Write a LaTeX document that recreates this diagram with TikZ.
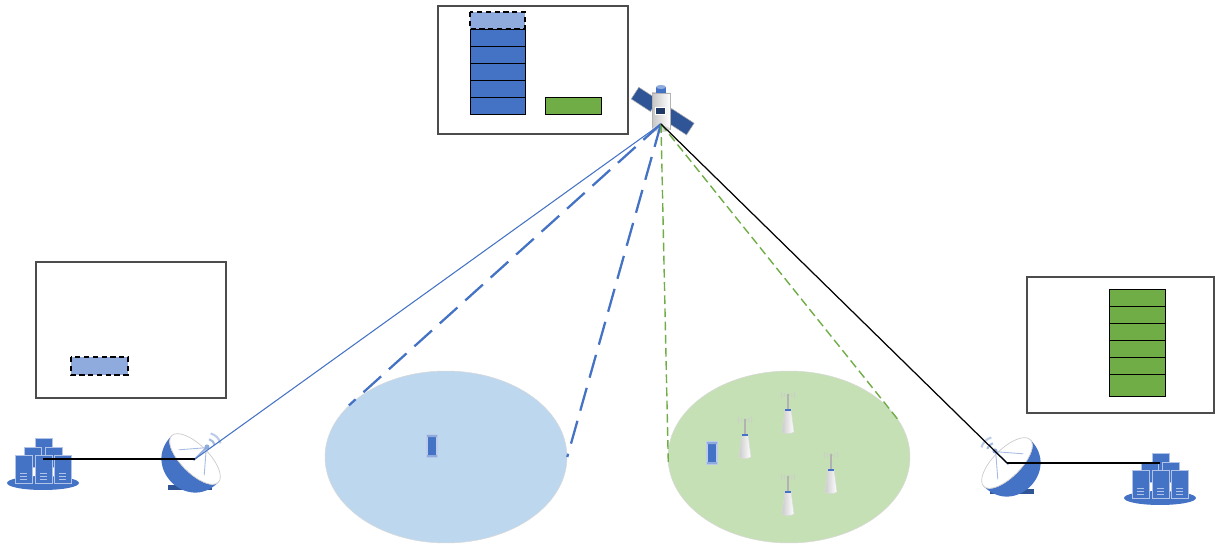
\documentclass[tikz,border=0pt]{standalone}
\usetikzlibrary{shapes.geometric,calc}

\definecolor{cellblue}{HTML}{4472C4}
\definecolor{cellpale}{HTML}{8FAADC}
\definecolor{cellgreen}{HTML}{70AD47}
\definecolor{spotblue}{HTML}{BDD7EE}
\definecolor{spotgreen}{HTML}{C5E0B4}
\definecolor{navy}{HTML}{2F5597}
\definecolor{panelnavy}{HTML}{203864}

\tikzset{
  panel/.style={draw=black!70, line width=0.7pt, fill=white},
  slot/.style={draw=black, line width=0.5pt},
  spare/.style={draw=black, densely dashed, line width=0.6pt, fill=cellpale},
  spot/.style={ellipse, minimum width=4.84cm, minimum height=3.44cm, inner sep=0pt, draw=black!15, line width=0.3pt},
  beamA/.style={cellblue, line width=1.3pt, dash pattern=on 13.5pt off 6pt},
  beamB/.style={cellgreen, line width=0.8pt, dash pattern=on 5pt off 2.5pt},
  feeder/.style={cellblue, line width=0.6pt},
  wire/.style={black, line width=0.7pt},
  % server rack cluster, origin at the centre of its base
  servers/.pic={
    \fill[cellblue] (0,0) ellipse [x radius=36, y radius=7];
    \foreach \xa/\ya in {-8/-45, -19/-36, 2/-36}
      \filldraw[fill=cellblue, draw=cellpale!70, line width=0.4pt] (\xa,\ya) rectangle ++(17,20);
    \foreach \xa in {-28,-8,11} {
      \filldraw[fill=cellblue, draw=cellpale!70, line width=0.4pt] (\xa,-28) rectangle ++(17,28);
      \draw[cellpale!70, line width=0.4pt] (\xa+5,-10) -- ++(7,0) (\xa+5,-7) -- ++(7,0) (\xa+5,-4) -- ++(7,0);
    }
    \coordinate (-port) at (0,-24);
  },
  % ground dish, origin at the feed
  dish/.pic={
    \fill[panelnavy] (-9,14) -- (-4,14) -- (-9,27) -- (-14,27) -- cycle;
    \fill[navy] (-27,26) rectangle (17,31);
    \begin{scope}[rotate=-45]
      \fill[cellblue] (-33,0) .. controls (-33,44) and (33,44) .. (33,0)
        .. controls (33,18.7) and (-33,18.7) .. (-33,0) -- cycle;
      \filldraw[fill=white, draw=gray!40, line width=0.4pt] (0,0) ellipse [x radius=33, y radius=14];
      \draw[cellpale!80, line width=0.5pt] (-18,5) -- (0,-16) -- (18,5);
      \draw[cellpale, line width=1pt] (0,2) -- (0,-17);
      \fill[cellpale] (0,-17) circle (2.5);
      \draw[cellpale!80, line width=1.2pt] (0,-17) ++(240:8) arc[start angle=240, end angle=300, radius=8];
      \draw[cellpale!60, line width=1.2pt] (0,-17) ++(240:14) arc[start angle=240, end angle=300, radius=14];
    \end{scope}
    \coordinate (-feed) at (0,0);
  },
  % satellite, origin at the body
  sat/.pic={
    \begin{scope}[rotate=-33]
      \draw[gray!70, line width=0.6pt] (-10,0) -- (10,0);
      \filldraw[fill=navy, draw=gray!60, line width=0.3pt] (-31,-7) rectangle (-8,7);
      \filldraw[fill=navy, draw=gray!60, line width=0.3pt] (8,-7) rectangle (35,7);
    \end{scope}
    \shade[left color=gray!45, right color=white, draw=gray!60, line width=0.3pt] (-9,-17) rectangle (9,19);
    \fill[gray!30] (0,19) ellipse [x radius=9, y radius=3];
    \fill[cellblue] (-5,-23) rectangle (5,-17);
    \fill[cellpale] (0,-23) ellipse [x radius=5, y radius=2];
    \filldraw[fill=panelnavy, draw=white, line width=0.4pt] (-6,-3) rectangle (4,4);
    \coordinate (-hub) at (0,14);
  },
  % small cell tower, origin at the foot
  tower/.pic={
    \shade[left color=gray!40, right color=white, draw=gray!30, line width=0.3pt]
      (-6,0) -- (-3,-23) -- (3,-23) -- (6,0) .. controls (5,2) and (-5,2) .. cycle;
    \fill[cellblue] (-3,-23) rectangle (3,-21);
    \draw[gray!60, line width=0.6pt] (0,-23) -- (0,-37);
    \fill[gray!60] (0,-37) circle (1.5);
    \foreach \r in {4,7} {
      \draw[gray!40, line width=0.4pt] (0,-37) ++(150:\r) arc[start angle=150, end angle=210, radius=\r];
      \draw[gray!40, line width=0.4pt] (0,-37) ++(-30:\r) arc[start angle=-30, end angle=30, radius=\r];
    }
  },
  handset/.pic={
    \filldraw[fill=cellblue, draw=cellpale!60, line width=0.6pt] (-5,-11) rectangle (5,11);
    \fill[cellpale] (-5,-11) rectangle (5,-9) (-5,9) rectangle (5,11);
  },
}

\begin{document}
\begin{tikzpicture}[x=0.02cm, y=-0.02cm]
\useasboundingbox (0,0) rectangle (1215,544);

% buffer boxes
\draw[panel] (438,6) rectangle (628,134);
\draw[spare] (470,12) rectangle ++(55,17);
\foreach \k in {1,...,5}
  \draw[slot, fill=cellblue] (470,{12+17*\k}) rectangle ++(55,17);
\draw[slot, fill=cellgreen] (545,97) rectangle (601,114);

\draw[panel] (36,262) rectangle (226,398);
\draw[spare] (71,357) rectangle (128,375);

\draw[panel] (1027,277) rectangle (1214,413);
\foreach \k in {0,...,4}
  \draw[slot, fill=cellgreen] (1109,{289+17*\k}) rectangle ++(56,17);
\draw[slot, fill=cellgreen] (1109,374) rectangle (1165,396);

% coverage areas
\node[spot, fill=spotblue] (cellA) at (446,457) {};
\node[spot, fill=spotgreen] (cellB) at (789,457) {};

\pic at (432,446) {handset};
\pic at (712,453) {handset};
\pic at (745,457) {tower};
\pic at (788,432) {tower};
\pic at (831,492) {tower};
\pic at (788,514) {tower};

% ground side
\pic (srvL) at (43,483) {servers};
\pic (srvR) at (1160,498) {servers};
\pic (dishL) at (195,459) {dish};
\pic[xscale=-1] (dishR) at (1007,463) {dish};
\pic (sat) at (661,110) {sat};

% links
\draw[wire] (srvL-port) -- (dishL-feed);
\draw[wire] (dishR-feed) -- (srvR-port |- dishR-feed);
\draw[feeder] (dishL-feed) -- (sat-hub);
\draw[beamA] (sat-hub) -- (cellA.152.5);
\draw[beamA] (sat-hub) -- (cellA.east);
\draw[beamB] (sat-hub) -- (cellB.184);
\draw[beamB] (sat-hub) -- (cellB.18.7);
\draw[wire] (sat-hub) -- (dishR-feed);
\end{tikzpicture}
\end{document}
